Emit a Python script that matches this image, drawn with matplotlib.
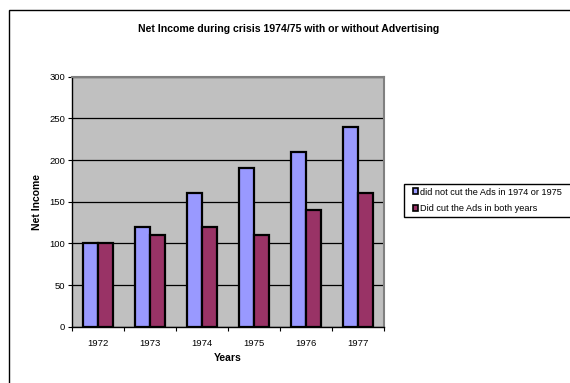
import matplotlib
matplotlib.use("Agg")
import matplotlib.pyplot as plt
import numpy as np
from matplotlib.patches import Rectangle

plt.rcParams['font.family'] = ['Liberation Sans', 'DejaVu Sans']

years = ["1972", "1973", "1974", "1975", "1976", "1977"]
not_cut = [100, 120, 160, 190, 210, 240]
did_cut = [100, 110, 120, 110, 140, 160]
series_names = ["did not cut the Ads in 1974 or 1975", "Did cut the Ads in both years"]
title = "Net Income during crisis 1974/75 with or without Advertising"

W, H = 570, 383
fig = plt.figure(figsize=(W / 100, H / 100), dpi=100)
fig.patch.set_facecolor("white")

# outer chart border (extends past right/bottom edges)
fig.patches.append(Rectangle((8.5 / W, -0.1), 1.2, 1 - 10.5 / H + 0.1, transform=fig.transFigure,
                             fill=False, edgecolor="black", linewidth=1.0, zorder=0))

ax = fig.add_axes([72 / W, (H - 326.7) / H, (384 - 72) / W, (326.7 - 76.7) / H])
ax.set_facecolor("#C0C0C0")

x = np.arange(len(years))
w = 0.29
ax.bar(x - w / 2, not_cut, w, color="#9999FF", edgecolor="black", linewidth=1.6, label=series_names[0], zorder=3)
ax.bar(x + w / 2, did_cut, w, color="#993366", edgecolor="black", linewidth=1.6, label=series_names[1], zorder=3)

ax.set_xlim(-0.5, len(years) - 0.5)
ax.set_ylim(0, 300)
ax.set_yticks(np.arange(0, 301, 50))
ax.yaxis.grid(True, color="black", linewidth=0.9, zorder=1)
ax.set_axisbelow(True)

ax.set_xticks(np.arange(-0.5, len(years), 1))
ax.set_xticklabels([])
ax.set_xticks(x, minor=True)
ax.set_xticklabels(years, minor=True)
ax.tick_params(axis="x", which="major", direction="out", length=3, width=0.8)
ax.tick_params(axis="x", which="minor", length=0, labelsize=6.8, pad=9)
ax.tick_params(axis="y", direction="out", length=3, width=0.8, labelsize=6.8, pad=2)

for s in ["top", "right"]:
    ax.spines[s].set_color("#808080")
    ax.spines[s].set_linewidth(1.5)
for s in ["left", "bottom"]:
    ax.spines[s].set_color("black")
    ax.spines[s].set_linewidth(1.0)

ax.set_xlabel("Years", fontsize=7.5, fontweight="bold", labelpad=3.5)
ax.set_ylabel("Net Income", fontsize=7.5, fontweight="bold", labelpad=5)

fig.text(0.506, 1 - 28.5 / H, title, ha="center", va="center", fontsize=7.6, fontweight="bold")

# legend box (extends past right edge)
fig.patches.append(Rectangle((404 / W, 1 - 216.5 / H), 0.5, 33 / H, transform=fig.transFigure,
                             facecolor="white", edgecolor="black", linewidth=1.0, zorder=1))
leg = fig.legend(loc="upper left", bbox_to_anchor=(408.5 / W, 1 - 183.5 / H), fontsize=6.6,
                 frameon=False, handlelength=0.6, handleheight=0.6,
                 handletextpad=0.2, borderpad=0.45, labelspacing=0.85, borderaxespad=0)
leg.set_zorder(2)
for h in leg.legend_handles:
    h.set_linewidth(1.2)

fig.savefig("out.png", dpi=100)
